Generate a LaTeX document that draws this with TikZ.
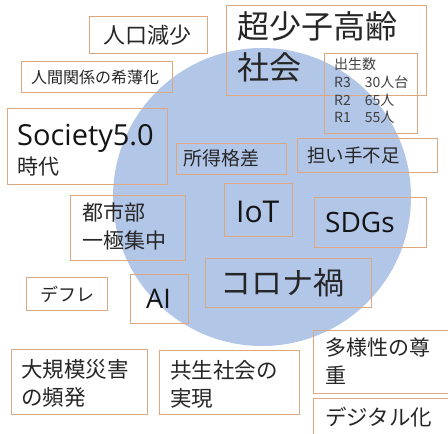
\documentclass[tikz,border=0pt]{standalone}
\usepackage{fontspec}
\setmainfont{Noto Sans CJK JP}
\newfontfamily\latfont{Open Sans}
\definecolor{circ}{RGB}{178,198,232}
\definecolor{edge}{RGB}{221,168,128}
\definecolor{ink}{RGB}{38,38,38}
\definecolor{inkl}{RGB}{20,20,20}
\definecolor{inkb}{RGB}{64,64,64}
\newcommand{\fsz}[2]{\fontsize{#1}{#2}\selectfont}
\begin{document}
\begin{tikzpicture}[x=1pt,y=-1pt,
  box/.style={draw=edge, line width=0.8pt, inner sep=0pt, anchor=north west},
  txt/.style={inner sep=0pt, anchor=west, align=left, text=ink},
  lat/.style={inner sep=0pt, anchor=base west, text=inkl, font=\latfont}]
\useasboundingbox (0,0) rectangle (448,434);
\clip (0,0) rectangle (448,434);
\fill[white] (0,0) rectangle (448,434);
\fill[circ] (262,197) circle[radius=149];

% boxes
\node[box, minimum width=118, minimum height=37] (b1) at (89,16) {};
\node[box, minimum width=151, minimum height=31] (b2) at (21,61) {};
\node[box, minimum width=160, minimum height=76] (b3) at (7,108) {};
\node[box, minimum width=110, minimum height=31] (b4) at (176,143) {};
\node[box, minimum width=200, minimum height=90] (b5) at (226,5) {};
\node[box, minimum width=93, minimum height=80] (b6) at (324,53) {};
\node[box, minimum width=140, minimum height=34] (b7) at (297,138) {};
\node[box, minimum width=68, minimum height=53] (b8) at (224,183) {};
\node[box, minimum width=112, minimum height=50] (b9) at (314,197) {};
\node[box, minimum width=166, minimum height=49] (b10) at (205,258) {};
\node[box, minimum width=115, minimum height=65] (b11) at (70,195) {};
\node[box, minimum width=81, minimum height=33] (b12) at (26,277) {};
\node[box, minimum width=58, minimum height=49] (b13) at (130,274) {};
\node[box, minimum width=136, minimum height=65] (b14) at (11,349) {};
\node[box, minimum width=140, minimum height=64] (b15) at (159,350) {};
\node[box, minimum width=160, minimum height=63] (b16) at (313,330) {};
\node[box, minimum width=160, minimum height=60] (b17) at (313,398) {};

% texts
\node[txt, font=\fsz{22}{26}] (t1) at (103,35) {人口減少};
\node[txt, font=\fsz{16}{20}] (t2) at (31,77) {人間関係の希薄化};
\node[lat, font=\latfont\fsz{29}{34}] (t3) at (17,145) {Society5.0};
\node[txt, font=\fsz{21}{25}] (t3b) at (17,167) {時代};
\node[txt, font=\fsz{19}{23}] (t4) at (183,158) {所得格差};
\node[txt, font=\fsz{32}{41}] (t5) at (237,47) {超少子高齢\\社会};
\node[txt, font=\fsz{14}{17.7}, text=inkb] (t6) at (334,91) {出生数\\R3\hspace{14pt}30人台\\R2\hspace{14pt}65人\\R1\hspace{14pt}55人};
\node[txt, font=\fsz{18.5}{22}] (t7) at (307,155) {担い手不足};
\node[lat, font=\latfont\fsz{30}{34}] (t8) at (236,222) {IoT};
\node[lat, font=\latfont\fsz{28}{34}] (t9) at (325,232) {SDGs};
\node[txt, font=\fsz{31}{36}] (t10) at (220,283) {コロナ禍};
\node[txt, font=\fsz{21}{28}] (t11) at (82,226) {都市部\\一極集中};
\node[txt, font=\fsz{18}{22}] (t12) at (40,294) {デフレ};
\node[lat, font=\latfont\fsz{27}{30}] (t13) at (146,308) {AI};
\node[txt, font=\fsz{21.5}{28}] (t14) at (21,383) {大規模災害\\の頻発};
\node[txt, font=\fsz{21.5}{28}] (t15) at (170,384) {共生社会の\\実現};
\node[txt, font=\fsz{21}{28}] (t16) at (325,361) {多様性の尊\\重};
\node[txt, font=\fsz{21.5}{26}] (t17) at (325,417) {デジタル化};
\end{tikzpicture}
\end{document}
